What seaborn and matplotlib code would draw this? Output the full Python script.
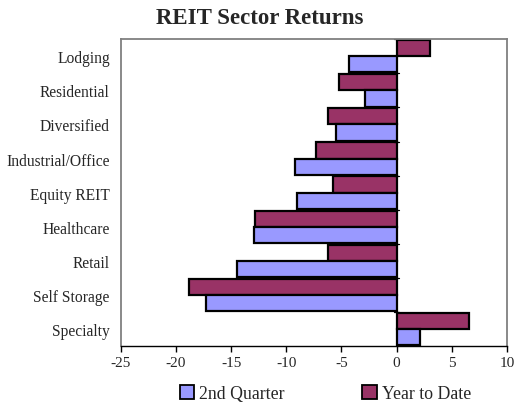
import numpy as np
import pandas as pd
import matplotlib
matplotlib.use('Agg')
import matplotlib.pyplot as plt
from matplotlib.patches import Patch
import seaborn as sns

# ─── Données ────────────────────────────────────────────────────────────────
sectors = ['Lodging', 'Residential', 'Diversified', 'Industrial/Office',
           'Equity REIT', 'Healthcare', 'Retail', 'Self Storage', 'Specialty']
q2_returns  = [-4.3, -2.9, -5.5, -9.2, -9.0, -12.9, -14.5, -17.3, 2.1]
ytd_returns = [3.0, -5.2, -6.2, -7.3, -5.8, -12.8, -6.2, -18.8, 6.6]
series_names = ['2nd Quarter', 'Year to Date']
x_ticks = [-25, -20, -15, -10, -5, 0, 5, 10]

COLORS = {'2nd Quarter': '#9999FF', 'Year to Date': '#993366'}

df = pd.DataFrame({
    'Sector': sectors * 2,
    'Return': q2_returns + ytd_returns,
    'Series': [series_names[0]] * len(sectors) + [series_names[1]] * len(sectors),
})

# ─── Style ──────────────────────────────────────────────────────────────────
sns.set_style('white')
plt.rcParams['font.family'] = ['Liberation Serif', 'DejaVu Serif']

fig = plt.figure(figsize=(5.14, 4.06), dpi=100)
ax = fig.add_axes([0.235, 0.145, 0.751, 0.756])

sns.barplot(data=df, y='Sector', x='Return', hue='Series',
            hue_order=['Year to Date', '2nd Quarter'], order=sectors,
            palette=COLORS, saturation=1, width=0.95, edgecolor='black',
            linewidth=1.6, orient='h', ax=ax, legend=False)

ax.set_xlim(-25, 10)
ax.set_ylim(len(sectors) - 0.5, -0.5)
ax.set_xticks(x_ticks)
ax.set_xticklabels([str(t) for t in x_ticks], fontsize=11)
ax.tick_params(axis='x', direction='out', length=4, width=1, color='black',
               bottom=True, pad=3)
ax.tick_params(axis='y', length=0, labelsize=11.2, pad=8)
ax.set_xlabel('')
ax.set_ylabel('')

for side in ['left', 'top', 'right']:
    ax.spines[side].set_color('#808080')
    ax.spines[side].set_linewidth(1.3)
ax.spines['bottom'].set_color('black')
ax.spines['bottom'].set_linewidth(1.0)

# axe vertical a 0 avec petites graduations entre categories
bounds = np.arange(len(sectors) + 1) - 0.5
for b in bounds[:-1]:
    ax.plot([-0.25, 0.25], [b, b], color='black', lw=0.9, zorder=1)

fig.text(0.505, 0.955, 'REIT Sector Returns', ha='center', va='center',
         fontsize=16.5, fontweight='bold')

handles = [Patch(facecolor=COLORS[n], edgecolor='black', linewidth=1.3)
           for n in series_names]
fig.legend(handles, series_names, loc='center', bbox_to_anchor=(0.633, 0.028),
           ncol=2, frameon=False, fontsize=12.75, columnspacing=4.4,
           handlelength=0.8, handleheight=0.8, handletextpad=0.3)

fig.savefig('out.png', dpi=100)
